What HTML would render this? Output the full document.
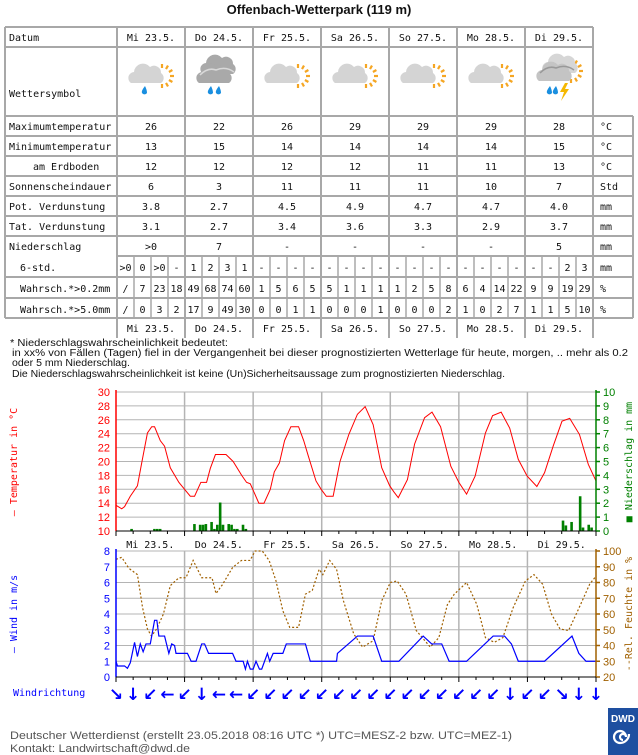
<!DOCTYPE html>
<html><head><meta charset="utf-8"><style>
html,body{margin:0;padding:0;background:#fff;width:638px;height:755px;overflow:hidden}
svg{display:block}
.m{font-family:"DejaVu Sans Mono","Liberation Mono",monospace;font-size:10px;fill:#111}
.s{font-family:"Liberation Sans",sans-serif}
</style></head><body>
<svg id="pg" width="638" height="755" viewBox="0 0 638 755" xmlns="http://www.w3.org/2000/svg">
<text x="319" y="14" text-anchor="middle" class="s" font-size="13" font-weight="bold" fill="#111">Offenbach-Wetterpark (119 m)</text>
<g id="tbl"></g>
<g id="icons"></g>
<g class="s" font-size="10" fill="#111">
<text x="10" y="346" textLength="218" lengthAdjust="spacingAndGlyphs">* Niederschlagswahrscheinlichkeit bedeutet:</text>
<text x="12" y="356" textLength="616" lengthAdjust="spacingAndGlyphs">in xx% von Fällen (Tagen) fiel in der Vergangenheit bei dieser prognostizierten Wetterlage für heute, morgen, .. mehr als 0.2</text>
<text x="12" y="366" textLength="118" lengthAdjust="spacingAndGlyphs">oder 5 mm Niederschlag.</text>
<text x="12" y="377" textLength="493" lengthAdjust="spacingAndGlyphs">Die Niederschlagswahrscheinlichkeit ist keine (Un)Sicherheitsaussage zum prognostizierten Niederschlag.</text>
</g>
<g id="chart1"></g>
<g id="chart2"></g>
<g id="wind"></g>
<text x="13" y="696" class="m" style="fill:#0000ff">Windrichtung</text>
<g class="s" font-size="11" fill="#555">
<text x="10" y="739" textLength="502" lengthAdjust="spacingAndGlyphs">Deutscher Wetterdienst (erstellt 23.05.2018 08:16 UTC     *) UTC=MESZ-2 bzw. UTC=MEZ-1)</text>
<text x="10" y="752" textLength="180" lengthAdjust="spacingAndGlyphs">Kontakt: Landwirtschaft@dwd.de</text>
</g>
<g>
<rect x="608" y="708" width="30" height="47" fill="#1e4fa0"/>
<text x="623" y="722" text-anchor="middle" class="s" font-size="10" font-weight="bold" fill="#fff">DWD</text>
<path d="M623 740 a3 3 0 1 1 3 -3 a6 6 0 1 0 -6 6 a9 9 0 0 0 9 -9" fill="none" stroke="#fff" stroke-width="2.2"/>
</g>
</svg>
<script>
const NS='http://www.w3.org/2000/svg';
// ---------- table data ----------
const days=['Mi 23.5.','Do 24.5.','Fr 25.5.','Sa 26.5.','So 27.5.','Mo 28.5.','Di 29.5.'];
const maxTemp=['26','22','26','29','29','29','28'];
const minTemp=['13','15','14','14','14','14','15'];
const groundTemp=['12','12','12','12','11','11','13'];
const sunshine=['6','3','11','11','11','10','7'];
const potEvap=['3.8','2.7','4.5','4.9','4.7','4.7','4.0'];
const actEvap=['3.1','2.7','3.4','3.6','3.3','2.9','3.7'];
const precipDay=['>0','7','-','-','-','-','5'];
const precip6h=['>0','0','>0','-','1','2','3','1','-','-','-','-','-','-','-','-','-','-','-','-','-','-','-','-','-','-','2','3'];
const prob02=['/','7','23','18','49','68','74','60','1','5','6','5','5','1','1','1','1','2','5','8','6','4','14','22','9','9','19','29'];
const prob50=['/','0','3','2','17','9','49','30','0','0','1','1','0','0','0','1','0','0','0','2','1','0','2','7','1','1','5','10'];
const iconTypes=['rain','heavy','sun','sun','sun','sun','storm'];

function mk(tag,attrs,parent,txt){const e=document.createElementNS(NS,tag);for(const k in attrs)e.setAttribute(k,attrs[k]);if(txt!==undefined)e.textContent=txt;parent.appendChild(e);return e;}

const tbl=document.getElementById('tbl');
const L=5,C0=117,DW=68,U0=593,U1=633;
const rows=[27,47,116,136,156,176,196,216,236,256,277,298,318,338];
const G='#a8a8a8';
function line(x1,y1,x2,y2,p,c,w){return mk('line',{x1,y1,x2,y2,stroke:c||G,'stroke-width':w||2},p||tbl);}
line(L,27,U0,27);line(L,47,U0,47);
for(let i=2;i<rows.length-1;i++){ if(i===9){line(C0,256,U1,256);continue;} line(L,rows[i],U1,rows[i]); }
line(L,27,L,318);
for(let d=0;d<=7;d++){const x=C0+d*DW;line(x,27,x,338);}
line(U1,116,U1,318);
for(let r=9;r<12;r++){for(let q=0;q<28;q++){if(q%4===0)continue;const x=C0+q*17;line(x,rows[r],x,rows[r+1],tbl,G,1.5);}}
function txt(x,y,s,anchor,name){const t=mk('text',{x,y,class:'m','text-anchor':anchor||'start'},tbl,s);

return t;}
txt(9,41,'Datum','start','row-label-datum');
txt(9,97,'Wettersymbol','start','row-label-wettersymbol');
const dataRows=[['Maximumtemperatur',maxTemp,'°C',9],['Minimumtemperatur',minTemp,'°C',9],['am Erdboden',groundTemp,'°C',33],['Sonnenscheindauer',sunshine,'Std',9],['Pot. Verdunstung',potEvap,'mm',9],['Tat. Verdunstung',actEvap,'mm',9],['Niederschlag',precipDay,'mm',9]];
days.forEach((d,i)=>{txt(C0+i*DW+34,41,d,'middle','header-date');txt(C0+i*DW+34,332,d,'middle','footer-date');});
dataRows.forEach((r,ri)=>{const y=rows[ri+2]+14;txt(r[3],y,r[0],'start','row-label');
r[1].forEach((v,i)=>txt(C0+i*DW+34,y,v,'middle','cell-value'));txt(600,y,r[2],'start','unit');});
const subRows=[['6-std.',precip6h,'mm'],['Wahrsch.*>0.2mm',prob02,'%'],['Wahrsch.*>5.0mm',prob50,'%']];
subRows.forEach((r,ri)=>{const y=rows[ri+9]+15;txt(20,y,r[0],'start','row-label');
r[1].forEach((v,i)=>txt(C0+i*17+8.5,y,v,'middle','cell-value'));txt(600,y,r[2],'start','unit');});

// ---------- icons ----------
const ic=document.getElementById('icons');
function cloud(cx,cy,fill,p){mk('path',{d:`M${cx-20} ${cy+8} a6 6 0 0 1 3 -11 a9 9 0 0 1 16 -5 a7 7 0 0 1 11 6 a6 6 0 0 1 0 10 z`,fill},p);}
function sun(cx,cy,p){for(let k=0;k<7;k++){const a=(-90+k*30)*Math.PI/180;mk('line',{x1:cx+Math.cos(a)*8,y1:cy+Math.sin(a)*8,x2:cx+Math.cos(a)*12,y2:cy+Math.sin(a)*12,stroke:'#f5a623','stroke-width':2.2},p);}}
function drop(x,y,p){mk('path',{d:`M${x} ${y-5} q-4 5 -3 7 a3 3 0 0 0 5 0 q0 -3 -2 -7z`,fill:'#1a8fe0'},p);}
iconTypes.forEach((t,i)=>{const g=mk('g',{},ic);


const cx=C0+i*DW+34,cy=75;
if(t==='heavy'){cloud(cx+4,cy-9,'#a9a9a9',g);cloud(cx,cy,'#a9a9a9',g);mk('path',{d:`M${cx-19} ${cy} q8 -8 16 -5 q10 -4 18 2`,stroke:'#d8d8d8','stroke-width':1.5,fill:'none'},g);drop(cx-8,cy+16,g);drop(cx,cy+16,g);return;}
if(t==='storm'){sun(cx+12,cy-4,g);cloud(cx+6,cy-10,'#d6d6d6',g);cloud(cx,cy-2,'#c4c4c4',g);mk('path',{d:`M${cx-19} ${cy-2} q8 -8 16 -5 q10 -4 18 2`,stroke:'#999','stroke-width':1.5,fill:'none'},g);drop(cx-9,cy+16,g);drop(cx-3,cy+16,g);mk('path',{d:`M${cx+6} ${cy+8} l-5 9 h4 l-3 9 l8 -12 h-4 l3 -6z`,fill:'#f5b800'},g);return;}
sun(cx+11,cy+1,g);cloud(cx,cy,'#d4d4d4',g);if(t==='rain')drop(cx-6,cy+16,g);});

// ---------- chart 1 data ----------
const tempHours=[0,2,3,5,7.5,9,11,12.5,13.5,15.5,17,19,22,24,26,27.5,29.7,31.7,33,34.8,38.5,41,44,45.7,47,50,51.8,54,55.4,57.2,59,61.2,63.9,65.7,67.3,70,71.8,73.6,76,78.4,81.5,84.5,87.2,90,93,95.8,97.3,98.8,102,104.5,108,110.6,113.6,117.2,120,122.7,125.7,129.3,131.8,134.8,137.8,140.8,143.9,147.3,150,153,156.1,158.8,162.2,165.3,168];
const tempVals=[13.7,13.2,13.5,15,16.5,19.8,24.1,25,25,23,22.2,19.1,17,16,15,15,17,17,19,21,21,20,18,17,16.8,14,14,16,18.5,19.8,23,25,25,23,20.8,17.2,16,15,15,20,23.9,26.8,27.9,25.3,19.1,16.5,15.6,14.8,17.4,22.5,26.3,27.1,25,19.3,17,15.3,17.9,24.1,26.6,27.1,24.8,20.3,17.9,16.4,18.4,22.2,25.8,26.2,23.9,19.6,17.2];
const rainHours=[5,13,14,15,27,29,30,31,33,34,35,36,37,39,40,41,42,44,45,156,157,159,162,163,165,166];
const rainVals=[0.15,0.15,0.15,0.15,0.5,0.45,0.45,0.5,0.65,0.15,0.45,2.05,0.45,0.5,0.45,0.15,0.15,0.45,0.15,0.75,0.4,0.65,2.5,0.25,0.45,0.25];
const tempTicks=[10,12,14,16,18,20,22,24,26,28,30];
const rainTicks=[0,1,2,3,4,5,6,7,8,9,10];
// ---------- chart 2 data ----------
const windHours=[0,0.5,3,4,5,6.5,7.5,8.5,9.5,10.5,12,13.5,14.3,15,17,18.5,19.5,20.5,21,25,26.3,28,30,31,32.4,40.8,42,44.5,45.3,46,47,48,49,50.2,51,53,53.8,55,58.4,59.6,66.3,68,77.2,77.5,84.5,90,93,99,107.5,110.5,114,116.6,122.7,132,136,138.4,140.8,150,159.6,162,164.5,168];
const windVals=[1,0.7,0.7,0.55,0.9,2.2,1.3,2.1,1.6,2.1,2.1,3.6,3.6,2.6,2.6,1.5,2.1,2,1.5,1.5,1,1,2.1,2.1,1.5,1.5,1,1,0.5,1,0.5,0.5,1,0.5,0.5,1.5,1,1.5,1.5,2.1,2.1,1,1,1.5,2.6,2.6,1,1,2.6,2.1,2.1,1,1,2.6,2.6,2.1,1,1,2.6,1.5,1,1];
const humHours=[0,2,4.5,7.5,9.3,11,12.4,14.2,16.6,19,22,24.5,27,30,33.6,35,37.2,40.8,43.9,46.9,48.7,51.2,53.6,56,58.4,60.8,63.9,66.3,68.7,71.1,72.4,74.8,77.2,79.6,83.2,86.3,90,93,96,98.4,101.5,105.1,110,113,116,118.4,122.7,126.3,129.3,132.4,135.4,139,143.3,146.3,149.3,152.4,155.4,158.4,162.1,165.8,168];
const humVals=[94.7,96,89,85,64,50.5,46,50.5,60,78,83,83,94,83,83,73,78.5,89.5,94,94,100,100,94,81,62,51.5,51.5,72.6,75,88.4,85,94,88.4,68.4,47.4,39,43,68.4,80,81,72.6,49.5,39,45,66,72.6,80,66,45,42,45,64,81,85,79,60,50.5,49.5,64,79,84];
const windTicks=[0,1,2,3,4,5,6,7,8];
const humTicks=[20,30,40,50,60,70,80,90,100];
const windDirs=['↘','↓','↙','←','↙','↓','←','←','↙','↙','↙','↙','↙','↙','↙','↙','↙','↙','↙','↙','↙','↙','↙','↓','↙','↙','↘','↓','↓'];

const X0=116,X1=596;
const xh=h=>X0+h*(X1-X0)/168;
const T0=531,T1=392;
const yT=t=>T0-(t-10)*(T0-T1)/20;
const yP=p=>T0-p*(T0-T1)/10;
const W0=677,W1=551;
const yW=w=>W0-w*(W0-W1)/8;
const yH=h=>W0-(h-20)*(W0-W1)/80;

function axisText(p,x,y,s,color,anchor){return mk('text',{x,y,fill:color,'text-anchor':anchor,'font-family':'"Liberation Sans",sans-serif','font-size':11},p,s);}

// chart 1
const c1=document.getElementById('chart1');
tempTicks.forEach(t=>{const l=line(X0,yT(t),X1,yT(t),c1,'#b4b4b4',1);

const tx=axisText(c1,110,yT(t)+4,String(t),'#ff0000','end');
});
for(let d=1;d<7;d++){const l=line(xh(d*24),T1,xh(d*24),T0,c1,'#b4b4b4',1.5);
}
rainTicks.forEach(p=>{const tk=line(X1,yP(p),X1+4,yP(p),c1,'#008000',1.5);

const tx=axisText(c1,603,yP(p)+4,String(p),'#008000','start');
});
rainHours.forEach((h,i)=>{const r=mk('rect',{x:xh(h),y:yP(rainVals[i]),width:2.6,height:T0-yP(rainVals[i]),fill:'#008000'},c1);

});
const tp=mk('polyline',{points:tempHours.map((h,i)=>xh(h)+','+yT(tempVals[i])).join(' '),fill:'none',stroke:'#ff0000','stroke-width':1},c1);


line(X0,T1-2,X0,T0,c1,'#ff0000',1.5);line(X1,T1-2,X1,T0,c1,'#008000',1.5);
line(X0,T0,X1,T0,c1,'#000',1);
for(let h=0;h<=168;h+=6){line(xh(h),T0,xh(h),T0+(h%24?3:5),c1,'#000',1);}
const lt=mk('text',{transform:'translate(17,462) rotate(-90)',fill:'#ff0000','text-anchor':'middle','font-family':'"DejaVu Sans Mono",monospace','font-size':10},c1,'— Temperatur in °C');

const rt=mk('text',{transform:'translate(632,462) rotate(-90)',fill:'#008000','text-anchor':'middle','font-family':'"DejaVu Sans Mono",monospace','font-size':10},c1,'■ Niederschlag in mm');


// chart 2
const c2=document.getElementById('chart2');
days.forEach((d,i)=>{const t=mk('text',{x:xh(i*24+12),y:548,'text-anchor':'middle',class:'m'},c2,d);
});
windTicks.forEach(w=>{const l=line(X0,yW(w),X1,yW(w),c2,'#b4b4b4',1);

const tx=axisText(c2,110,yW(w)+4,String(w),'#0000ff','end');
});
for(let d=1;d<7;d++){const l=line(xh(d*24),W1,xh(d*24),W0,c2,'#b4b4b4',1.5);
}
humTicks.forEach(h=>{const tk=line(X1,yH(h),X1+4,yH(h),c2,'#a06000',1.5);

const tx=axisText(c2,603,yH(h)+4,String(h),'#a06000','start');
});
const hp=mk('polyline',{points:humHours.map((h,i)=>xh(h)+','+yH(humVals[i])).join(' '),fill:'none',stroke:'#a06000','stroke-width':1.2,'stroke-dasharray':'2,2'},c2);


const wp=mk('polyline',{points:windHours.map((h,i)=>xh(h)+','+yW(windVals[i])).join(' '),fill:'none',stroke:'#0000ff','stroke-width':1.2},c2);


line(X0,W1-2,X0,W0,c2,'#0000ff',1.5);line(X1,W1-2,X1,W0,c2,'#a06000',1.5);
line(X0,W0,X1,W0,c2,'#000',1);
for(let h=0;h<=168;h+=6){line(xh(h),W0,xh(h),W0+(h%24?3:5),c2,'#000',1);}
const lw=mk('text',{transform:'translate(17,614) rotate(-90)',fill:'#0000ff','text-anchor':'middle','font-family':'"DejaVu Sans Mono",monospace','font-size':10},c2,'— Wind in m/s');

const rh=mk('text',{transform:'translate(632,614) rotate(-90)',fill:'#a06000','text-anchor':'middle','font-family':'"DejaVu Sans Mono",monospace','font-size':10},c2,'--Rel. Feuchte in %');


// wind direction arrows
const wg=document.getElementById('wind');
windDirs.forEach((a,i)=>{const t=mk('text',{x:xh(i*6),y:700,'text-anchor':'middle',fill:'#0000ff','font-family':'"DejaVu Sans",sans-serif','font-size':17,'font-weight':'bold'},wg,a);

});
</script>
</body></html>
